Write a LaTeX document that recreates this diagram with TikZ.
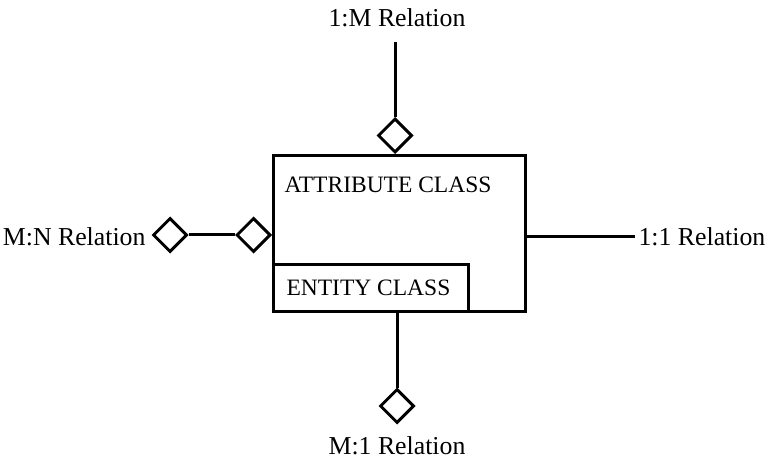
\documentclass[tikz,border=0pt]{standalone}
\usepackage{fontspec}
\setmainfont{Liberation Serif}
\usetikzlibrary{positioning,shapes.geometric}

\begin{document}
\begin{tikzpicture}[
  x=1pt, y=-1pt,
  font=\fontsize{23.5}{26}\selectfont,
  line width=3pt,
  cls/.style={draw, rectangle, inner sep=0pt, anchor=north west},
  dia/.style={draw, diamond, inner sep=0pt, minimum width=34pt, minimum height=34pt, line width=3pt},
  lbl/.style={inner sep=0pt, font=\fontsize{25.8}{28}\selectfont},
]
  \useasboundingbox (0,0) rectangle (771,465);

  % classes
  \node[cls, minimum width=252pt, minimum height=156pt] (attr) at (272,154) {};
  \node[anchor=west, inner sep=0pt] (attrtxt) at (283,185) {ATTRIBUTE CLASS};
  \node[cls, minimum width=195pt, minimum height=47pt] (ent) at (272,263) {};
  \node[anchor=west, inner sep=0pt] (enttxt) at (285,288) {ENTITY CLASS};

  % relation labels
  \node[lbl] (oneM) at (397,18) {1:M Relation};
  \node[lbl] (Mone) at (397,446) {M:1 Relation};
  \node[lbl, anchor=west] (oneone) at (637,237) {1:1 Relation};
  \node[lbl, anchor=east] (MN) at (147,237) {M:N Relation};

  % diamonds
  \node[dia, anchor=south] (dtop) at (395,154) {};
  \node[dia] (dbot) at (397,406) {};
  \node[dia, anchor=east] (dleft2) at (272,235) {};
  \node[dia] (dleft1) at (170,235) {};

  \coordinate (toptip) at (395,42);
  \coordinate (botroot) at (397,310);

  % connectors
  \draw (toptip) -- (dtop.north);
  \draw (botroot) -- (dbot.north);
  \draw (dleft1) -- (dleft2);
  \draw (attr.east |- oneone.west) -- ([xshift=-2pt]oneone.west);
\end{tikzpicture}
\end{document}
